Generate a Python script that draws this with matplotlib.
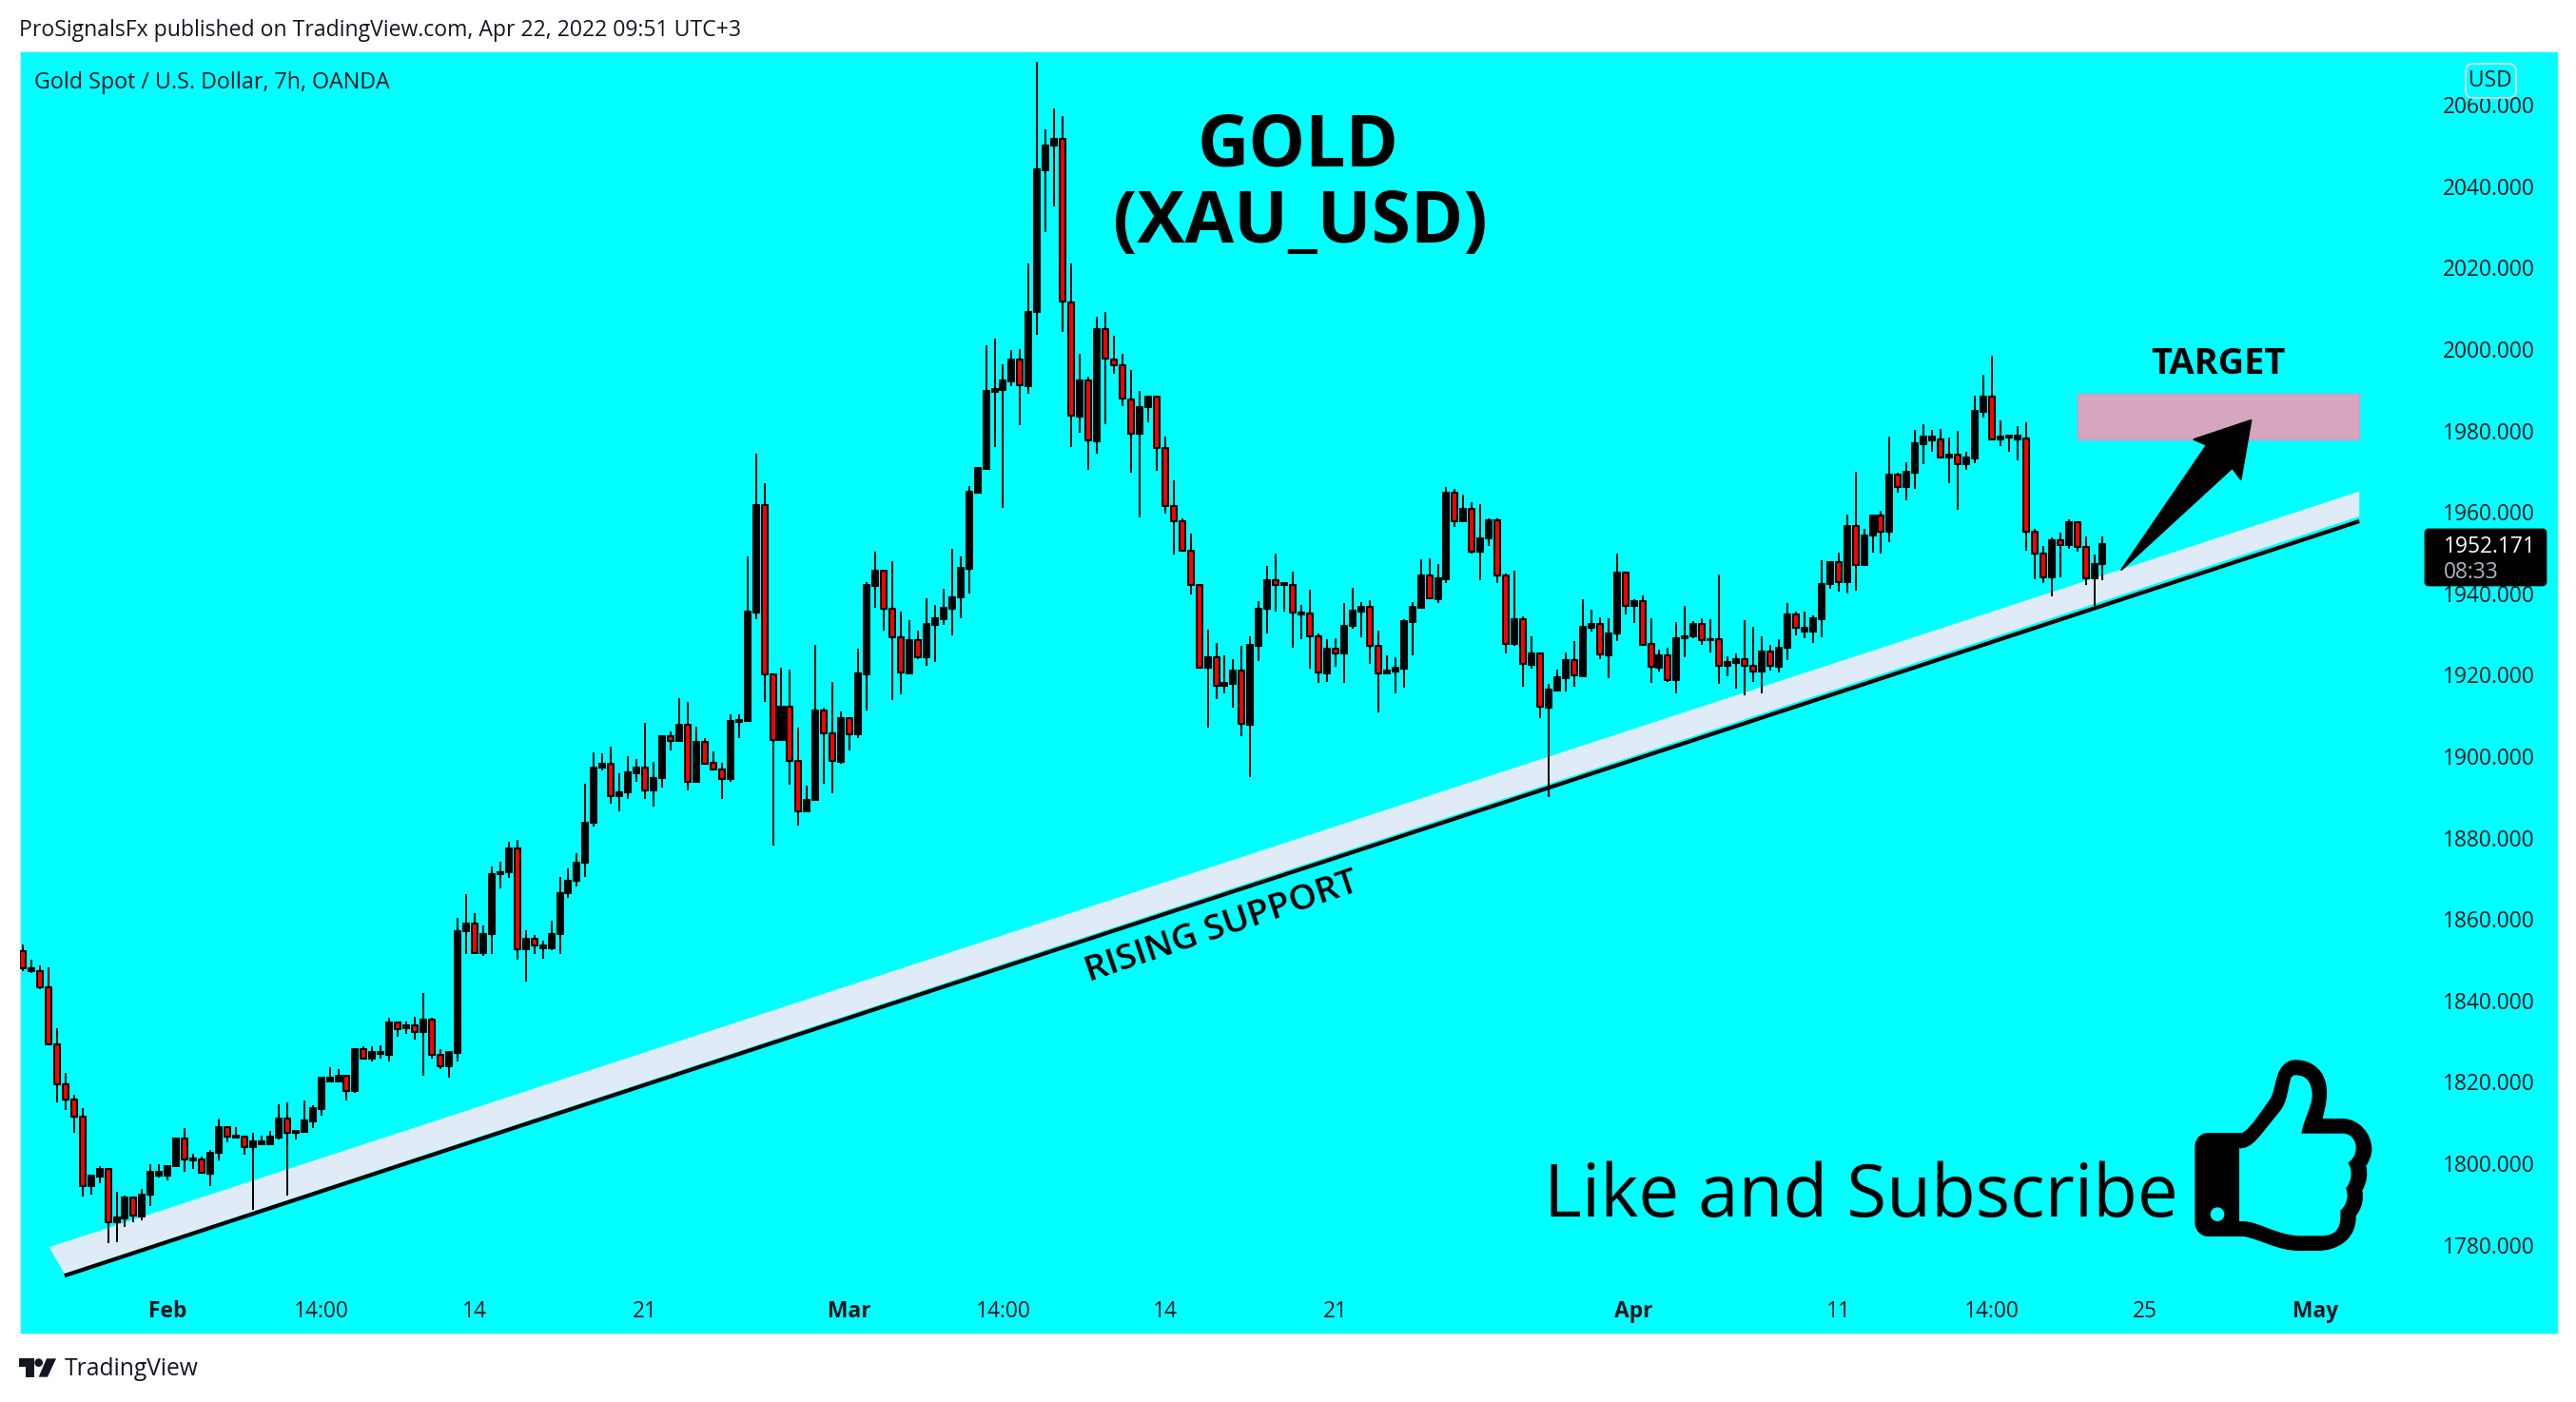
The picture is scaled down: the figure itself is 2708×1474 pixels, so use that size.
import numpy as np
import matplotlib
matplotlib.use('Agg')
import matplotlib.pyplot as plt
from matplotlib.patches import Polygon, PathPatch, Circle, Rectangle, FancyBboxPatch
from matplotlib.path import Path

# Velas XAU/USD 7h
opens = [1852.0,1847.2,1847.3,1843.2,1829.1,1819.3,1815.7,1811.4,1794.3,1796.8,
 1798.5,1785.5,1786.5,1791.5,1787.0,1792.2,1797.0,1797.0,1799.2,1806.2,
 1800.7,1800.9,1797.5,1802.7,1809.0,1806.4,1806.5,1804.1,1804.8,1804.8,
 1806.4,1810.9,1807.6,1807.8,1810.3,1813.4,1820.2,1820.2,1821.4,1817.8,
 1828.0,1825.8,1826.8,1826.7,1834.5,1833.1,1834.0,1832.2,1835.2,1826.6,
 1823.9,1827.2,1856.9,1858.8,1851.7,1856.3,1871.0,1871.4,1877.3,1852.5,
 1855.1,1852.7,1852.7,1856.3,1866.3,1869.3,1873.8,1883.6,1897.1,1898.1,
 1890.3,1891.1,1895.9,1897.1,1891.7,1894.6,1904.9,1903.8,1907.7,1893.8,
 1903.4,1898.3,1896.8,1894.5,1908.5,1908.7,1935.3,1961.7,1920.0,1903.9,
 1912.1,1898.8,1886.4,1889.2,1911.2,1905.6,1898.7,1909.3,1905.3,1920.2,
 1941.8,1945.6,1936.1,1929.1,1920.3,1928.4,1924.4,1932.2,1933.6,1936.3,
 1938.9,1946.1,1964.8,1970.6,1989.5,1990.0,1992.1,1997.4,1990.9,2009.0,
 2044.0,2049.9,2051.5,2011.5,1983.5,1992.2,1977.4,2005.0,1997.5,1995.9,
 1987.7,1979.3,1985.8,1988.2,1975.6,1961.4,1957.6,1950.4,1942.0,1921.7,
 1924.2,1917.4,1917.8,1921.0,1907.8,1927.2,1936.1,1943.1,1942.0,1942.1,
 1934.9,1935.0,1929.4,1920.4,1926.3,1925.3,1931.9,1935.6,1936.6,1927.2,
 1920.3,1920.9,1921.6,1933.0,1936.5,1944.3,1938.6,1943.5,1964.6,1957.6,
 1960.7,1950.3,1953.4,1957.9,1944.5,1927.6,1933.6,1922.5,1925.2,1912.0,
 1916.2,1919.2,1923.5,1919.7,1931.6,1932.4,1924.8,1930.1,1945.0,1936.8,
 1938.0,1927.5,1921.8,1924.7,1918.8,1928.9,1929.4,1932.4,1928.4,1928.7,
 1922.1,1923.0,1923.8,1922.3,1920.9,1925.6,1922.0,1926.6,1934.7,1930.7,
 1930.7,1933.7,1942.2,1947.6,1942.7,1956.5,1946.9,1954.1,1959.0,1955.1,
 1969.2,1966.1,1969.7,1976.7,1977.6,1977.8,1973.4,1974.1,1971.8,1973.2,
 1984.6,1988.3,1977.8,1978.3,1977.8,1978.0,1955.1,1949.7,1944.0,1953.0,
 1951.9,1957.4,1951.3,1943.6,1947.1]
highs = [1853.7,1849.9,1848.5,1848.1,1833.1,1822.1,1816.8,1813.5,1797.0,1799.2,
 1798.8,1792.9,1792.0,1791.5,1793.6,1799.7,1799.7,1799.5,1806.2,1808.6,
 1802.3,1801.6,1803.4,1810.9,1809.0,1808.8,1806.7,1807.6,1806.7,1807.9,
 1814.4,1814.9,1808.3,1815.4,1814.2,1821.2,1823.5,1823.1,1821.4,1828.2,
 1828.7,1828.7,1828.9,1835.7,1834.5,1834.8,1835.9,1841.8,1835.7,1828.0,
 1827.3,1860.2,1866.1,1861.4,1858.3,1872.8,1874.0,1878.9,1879.4,1857.2,
 1856.0,1854.6,1859.5,1870.3,1872.4,1876.1,1893.2,1900.9,1900.6,1902.3,
 1895.7,1899.9,1899.2,1908.1,1898.5,1905.1,1906.0,1914.2,1913.3,1907.2,
 1904.4,1901.1,1898.3,1910.2,1910.2,1949.1,1974.2,1967.0,1920.2,1921.7,
 1921.2,1907.0,1892.7,1927.3,1911.9,1918.2,1910.9,1909.3,1926.3,1942.8,
 1950.2,1945.6,1947.9,1935.5,1933.3,1930.8,1938.7,1937.1,1941.0,1950.9,
 1949.0,1966.3,1970.7,2000.9,2002.5,1996.2,1999.7,1999.9,2020.9,2070.6,
 2053.9,2059.0,2057.1,2021.1,1998.9,1993.1,2007.9,2009.0,2003.2,1998.7,
 1994.8,1989.8,1988.5,1988.2,1978.4,1967.7,1958.3,1954.6,1942.2,1931.0,
 1927.7,1924.7,1923.8,1927.0,1929.4,1938.0,1946.7,1949.7,1942.7,1945.3,
 1937.1,1940.8,1930.1,1928.7,1928.9,1937.5,1941.3,1937.8,1938.2,1930.8,
 1924.7,1924.2,1933.6,1937.8,1948.3,1948.5,1947.1,1966.0,1965.6,1964.2,
 1962.3,1961.8,1958.3,1958.3,1944.8,1945.5,1934.3,1929.4,1925.2,1917.7,
 1921.2,1925.4,1928.2,1938.5,1935.9,1934.0,1933.8,1949.7,1945.3,1938.5,
 1939.4,1933.8,1926.1,1926.6,1932.9,1936.8,1933.1,1933.8,1933.6,1944.6,
 1924.5,1925.2,1933.3,1931.7,1929.4,1927.3,1928.7,1937.5,1935.4,1935.4,
 1934.5,1948.1,1947.8,1949.9,1959.3,1969.8,1955.8,1959.0,1960.2,1978.5,
 1969.7,1972.2,1980.2,1981.6,1980.2,1980.4,1978.3,1979.9,1974.8,1988.6,
 1993.7,1998.4,1982.5,1979.0,1981.1,1982.0,1955.8,1951.6,1953.7,1954.8,
 1958.1,1957.4,1953.9,1949.5,1953.9]
lows = [1847.1,1846.7,1842.8,1829.1,1815.0,1813.2,1807.6,1791.9,1792.4,1795.2,
 1780.5,1780.7,1784.4,1785.6,1786.1,1789.6,1796.4,1795.9,1799.2,1798.0,
 1798.7,1797.6,1794.5,1800.6,1805.2,1806.0,1802.2,1788.6,1804.5,1804.8,
 1805.9,1792.1,1805.9,1807.8,1808.7,1811.8,1820.2,1820.2,1815.5,1817.4,
 1825.6,1825.1,1825.8,1824.9,1831.2,1831.7,1830.5,1821.6,1825.8,1823.2,
 1821.0,1824.9,1851.5,1851.5,1850.9,1851.3,1867.6,1870.2,1850.1,1844.7,
 1851.5,1850.3,1852.4,1851.5,1865.3,1867.9,1870.4,1882.8,1896.6,1888.4,
 1886.5,1889.4,1893.6,1889.4,1887.7,1892.4,1901.3,1903.8,1891.5,1893.8,
 1897.8,1896.4,1889.6,1893.6,1904.5,1908.7,1933.7,1913.4,1878.1,1903.9,
 1892.9,1883.0,1886.4,1889.2,1893.3,1891.0,1898.2,1901.5,1904.5,1911.1,
 1936.4,1930.9,1913.7,1915.1,1920.1,1923.9,1922.1,1923.2,1932.2,1929.7,
 1933.9,1940.0,1964.5,1970.6,1976.0,1961.0,1990.8,1981.2,1989.1,2003.5,
 2028.6,2035.1,2004.3,1976.0,1979.5,1970.4,1974.3,1981.6,1994.0,1986.0,
 1969.5,1958.7,1982.1,1970.1,1959.6,1949.6,1950.4,1939.6,1921.7,1907.1,
 1913.9,1915.3,1911.8,1905.0,1894.9,1923.4,1930.2,1935.6,1935.6,1926.7,
 1928.8,1921.6,1918.1,1918.3,1922.0,1918.1,1931.2,1929.3,1922.7,1910.7,
 1920.3,1915.5,1916.9,1924.8,1936.5,1938.7,1937.5,1942.6,1956.2,1957.6,
 1949.8,1943.1,1951.7,1942.4,1925.3,1927.2,1917.1,1921.6,1909.4,1890.0,
 1916.0,1916.0,1917.1,1919.7,1930.7,1923.9,1919.2,1928.2,1934.9,1932.6,
 1927.1,1918.1,1920.9,1918.3,1915.5,1924.4,1928.9,1927.4,1925.5,1917.8,
 1919.6,1916.7,1915.0,1918.3,1915.5,1921.1,1920.6,1923.7,1929.6,1928.9,
 1927.7,1929.1,1941.0,1940.3,1940.0,1940.7,1946.7,1949.9,1949.7,1952.5,
 1964.7,1962.9,1965.7,1971.8,1974.8,1973.4,1967.1,1960.6,1970.4,1972.0,
 1983.2,1977.6,1976.2,1974.8,1972.7,1950.4,1943.5,1942.6,1939.3,1944.0,
 1951.0,1950.3,1942.1,1936.8,1943.1]
closes = [1847.8,1847.8,1843.2,1829.1,1819.3,1815.7,1811.4,1794.3,1797.0,1798.5,
 1785.5,1786.7,1791.5,1787.1,1792.2,1797.8,1797.8,1799.3,1806.2,1800.9,
 1801.1,1797.6,1802.7,1809.0,1806.6,1806.7,1804.1,1805.3,1805.3,1806.5,
 1810.9,1807.6,1808.0,1810.5,1813.5,1821.0,1821.0,1821.4,1817.8,1828.0,
 1825.8,1827.3,1827.3,1834.5,1833.0,1834.0,1832.2,1835.2,1826.6,1823.9,
 1827.3,1856.9,1858.8,1851.7,1856.2,1871.0,1871.4,1877.3,1852.5,1855.1,
 1853.4,1853.4,1856.3,1866.3,1869.3,1873.8,1883.6,1897.1,1898.1,1890.3,
 1891.1,1896.0,1897.1,1891.7,1894.6,1904.9,1903.8,1907.7,1893.8,1903.4,
 1898.2,1896.8,1894.5,1908.6,1908.8,1935.5,1961.7,1920.0,1903.9,1912.1,
 1898.8,1886.4,1889.2,1911.2,1905.6,1898.8,1909.3,1905.3,1920.3,1942.1,
 1945.6,1936.1,1929.1,1920.5,1928.4,1924.4,1932.5,1933.9,1936.4,1938.9,
 1946.2,1964.9,1970.7,1989.6,1990.1,1992.2,1997.4,1991.0,2009.0,2044.1,
 2049.9,2051.5,2011.6,1983.6,1992.2,1977.5,2005.0,1997.6,1995.9,1987.8,
 1979.3,1985.8,1988.2,1975.6,1961.4,1957.6,1950.4,1942.0,1921.7,1924.2,
 1917.4,1917.9,1921.0,1907.9,1927.3,1936.1,1943.1,1942.1,1942.4,1935.2,
 1935.3,1929.4,1920.5,1926.3,1925.3,1931.9,1935.7,1936.6,1927.2,1920.3,
 1921.0,1921.7,1933.1,1936.6,1944.3,1938.7,1943.6,1964.6,1957.6,1960.7,
 1950.3,1953.4,1957.9,1944.5,1927.6,1933.6,1922.6,1925.2,1912.1,1916.3,
 1919.3,1923.5,1919.8,1931.7,1932.4,1924.9,1930.1,1945.0,1936.8,1938.0,
 1927.3,1921.9,1924.7,1918.8,1928.9,1929.4,1932.4,1928.4,1928.7,1922.1,
 1923.1,1923.8,1922.3,1920.9,1925.6,1922.1,1926.6,1934.7,1931.5,1931.5,
 1933.8,1942.2,1947.6,1942.7,1956.5,1946.9,1954.1,1959.0,1955.1,1969.1,
 1966.1,1969.9,1976.9,1978.5,1978.5,1973.4,1974.1,1971.8,1973.4,1984.8,
 1988.3,1977.8,1978.5,1978.8,1978.8,1955.1,1949.7,1944.0,1953.0,1951.9,
 1957.4,1951.3,1943.6,1947.1,1952.0]

# Ejes
price_ticks = list(range(1780, 2061, 20))
time_ticks = [17, 35, 53, 73, 97, 115, 134, 154, 189, 213, 231, 249, 269]
time_labels = ['Feb', '14:00', '14', '21', 'Mar', '14:00', '14', '21', 'Apr', '11', '14:00', '25', 'May']
month_labels = ['Feb', 'Mar', 'Apr', 'May']

# Dibujos sobre el grafico (barra, precio)
support_x = [4.9, 274.1]
support_y = [1772.4, 1957.7]
band_x = [3.1, 274.1, 274.1, 4.9]
band_y = [1779.4, 1965.0, 1958.9, 1772.9]
target_x = [241.0, 274.1]
target_y = [1977.8, 1989.1]
arrow_x = [246.2, 256.2, 254.7, 261.4, 260.2, 259.2]
arrow_y = [1945.8, 1976.4, 1977.8, 1982.5, 1968.0, 1970.8]

W, H = 2708, 1474
CYAN = '#00FFFF'
INK = '#131722'
FONT = 'Open Sans'
plt.rcParams['font.family'] = [FONT, 'DejaVu Sans']

fig = plt.figure(figsize=(W / 200, H / 200), dpi=200, facecolor='white')
ax = fig.add_axes([21 / W, 1 - 1402 / H, (2689 - 21) / W, (1402 - 54) / H], facecolor=CYAN)
ax.set_xlim(-0.33, 297.4)
ax.set_ylim(1758.2, 2073.1)

opens = np.array(opens)
closes = np.array(closes)
idx = np.arange(len(opens))
body_bottom = np.minimum(opens, closes)
body_height = np.abs(closes - opens)
colors = ['black' if c >= o else 'red' for o, c in zip(opens, closes)]

# Banda de soporte y objetivo van debajo de las velas
ax.add_patch(Polygon(np.column_stack([band_x, band_y]), closed=True, fc='#DFECF8', ec='none', zorder=1))
ax.plot(support_x, support_y, color='black', lw=1.5, solid_capstyle='butt', zorder=2)
ax.add_patch(Rectangle((target_x[0], target_y[0]), target_x[1] - target_x[0], target_y[1] - target_y[0],
                       fc='#D5A6BD', ec='#C79AD8', lw=0.5, zorder=1))

ax.vlines(idx, lows, highs, color='black', lw=0.72, zorder=3)
ax.bar(idx, body_height, width=0.67, bottom=body_bottom, color=colors, edgecolor='black', linewidth=0.72, zorder=4)

ax.add_patch(Polygon(np.column_stack([arrow_x, arrow_y]), closed=True, fc='black', ec='black',
                     lw=0.7, joinstyle='round', zorder=5))

ax.set_yticks(price_ticks)
ax.set_yticklabels(['%.3f' % p for p in price_ticks])
ax.set_xticks(time_ticks)
ax.set_xticklabels(time_labels)
ax.tick_params(axis='y', left=False, right=False, labelleft=False, labelright=True, pad=-47,
               labelsize=8.2, labelcolor=INK)
ax.tick_params(axis='x', bottom=False, pad=-16, labelsize=8.2, labelcolor=INK)
for lab in ax.get_xticklabels():
    if lab.get_text() in month_labels:
        lab.set_fontweight('bold')
for s in ax.spines.values():
    s.set_color('#E0E3EB')
    s.set_linewidth(0.4)

# Capa en pixeles de la imagen para textos e iconos
ov = fig.add_axes([0, 0, 1, 1])
ov.set_xlim(0, W)
ov.set_ylim(H, 0)
ov.axis('off')

ov.text(20, 32, 'ProSignalsFx published on TradingView.com, Apr 22, 2022 09:51 UTC+3',
        fontsize=8.28, color=INK, va='center', ha='left')
ov.text(36, 87, 'Gold Spot / U.S. Dollar, 7h, OANDA', fontsize=8.4, color=INK, va='center', ha='left')
ov.text(68, 1440, 'TradingView', fontsize=8.85, color=INK, va='center', ha='left')

ov.text(1365, 155, 'GOLD', fontsize=27, fontweight='bold', color='black', ha='center', va='center')
ov.text(1367, 235, '(XAU_USD)', fontsize=27, fontweight='bold', color='black', ha='center', va='center')
ov.text(2332, 383, 'TARGET', fontsize=13.7, fontweight='bold', color='black', ha='center', va='center')
ov.text(1285, 976, 'RISING SUPPORT', fontsize=13.4, fontweight='semibold', color='black', ha='center', va='center',
        rotation=18.6, rotation_mode='anchor')
ov.text(1623, 1259, 'Like and Subscribe', fontsize=27.5, color='black', ha='left', va='center')

# Etiqueta de precio y caja USD
ov.add_patch(FancyBboxPatch((2550, 557), 126, 58, boxstyle='round,pad=0,rounding_size=3', fc='black', ec='black', lw=1))
ov.text(2569, 575, '1952.171', fontsize=8.2, color='white', va='center', ha='left')
ov.text(2569, 602, '08:33', fontsize=8.2, color='#B2B5BE', va='center', ha='left')
ov.add_patch(FancyBboxPatch((2592, 67), 53, 36, boxstyle='round,pad=0,rounding_size=8', fc=CYAN, ec='#D1D4DC', lw=0.7))
ov.text(2618, 85, 'USD', fontsize=8.2, color=INK, va='center', ha='center')


def icon_path(start, segments, scale, origin):
    verts = [start]
    codes = [Path.MOVETO]
    for seg in segments:
        verts.extend(seg)
        codes.extend([Path.LINETO] if len(seg) == 1 else [Path.CURVE4] * 3)
    verts.append(start)
    codes.append(Path.CLOSEPOLY)
    return Path(np.array(verts, dtype=float) / scale + origin, codes)


# Pulgar
origin = np.array([2280, 1090])
outer = icon_path((125, 303), [
    [(232, 303)], [(260, 285), (285, 245), (320, 195)], [(335, 170), (335, 130), (350, 105)],
    [(360, 85), (378, 73), (400, 73)], [(450, 73), (500, 105), (498, 180)], [(498, 210), (490, 235), (485, 258)],
    [(550, 258)], [(600, 260), (640, 305), (640, 355)], [(640, 375), (630, 395), (622, 408)],
    [(628, 430), (625, 460), (610, 485)], [(615, 510), (610, 540), (590, 565)], [(592, 640), (530, 675), (470, 675)],
    [(410, 675)], [(340, 675), (280, 635), (235, 630)], [(125, 630)], [(100, 630), (82, 610), (82, 585)],
    [(82, 348)], [(82, 322), (100, 303), (125, 303)]], 3, origin)
inner = icon_path((222, 352), [
    [(265, 352), (280, 320), (350, 235)], [(375, 205), (375, 160), (385, 130)], [(390, 120), (400, 120), (410, 122)],
    [(440, 125), (452, 155), (452, 185)], [(450, 225), (425, 260), (418, 305)], [(550, 305)],
    [(575, 305), (592, 330), (590, 352)], [(590, 375), (575, 392), (565, 397)], [(580, 420), (578, 455), (558, 478)],
    [(568, 500), (562, 530), (541, 548)], [(545, 600), (530, 628), (480, 628)], [(410, 628)],
    [(340, 625), (280, 582), (235, 582)], [(222, 582)]], 3, origin)
ov.add_patch(PathPatch(outer, fc='black', ec='none'))
ov.add_patch(PathPatch(inner, fc=CYAN, ec='none'))
ov.add_patch(Circle(np.array([153, 560]) / 3 + origin, 22 / 3, fc=CYAN, ec='none'))

# Logo de TradingView
ov.add_patch(Polygon(np.array([(60, 235), (107, 235), (107, 293), (80, 293), (80, 262), (60, 262)]) / 3 + [0, 1350],
                     closed=True, fc=INK, ec='none'))
ov.add_patch(Circle(np.array([122, 248]) / 3 + [0, 1350], 13 / 3, fc=INK, ec='none'))
ov.add_patch(Polygon(np.array([(147, 235), (177, 235), (150, 293), (122, 293)]) / 3 + [0, 1350],
                     closed=True, fc=INK, ec='none'))

fig.savefig('out.png', dpi=200)
